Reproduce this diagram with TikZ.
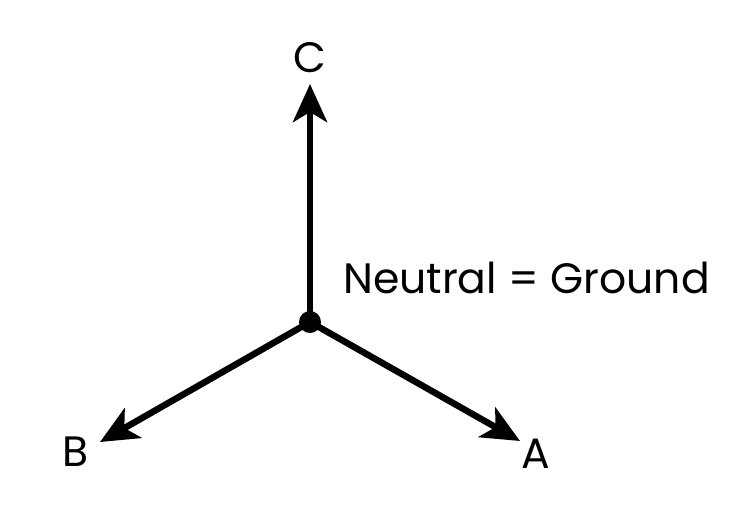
\documentclass[tikz,border=0pt]{standalone}
\usepackage{fontspec}
\setmainfont{Poppins}
\usetikzlibrary{arrows.meta}
\begin{document}
\begin{tikzpicture}[x=1pt,y=-1pt,
  vec/.style={line width=6.5pt,-{Stealth[length=38pt,width=34pt,inset=10pt]}},
  lbl/.style={font=\fontsize{42.5}{44}\selectfont,inner sep=0pt}]
\useasboundingbox (0,0) rectangle (755,515);
\node[circle,fill,inner sep=0pt,minimum size=22pt] (o) at (310,322) {};
\coordinate (c) at (310,84);
\coordinate (b) at (100,442);
\coordinate (a) at (520,441);
\draw[vec] (o.center) -- (c);
\draw[vec] (o.center) -- (b);
\draw[vec] (o.center) -- (a);
\node[lbl] (lc) at (310,58) {C};
\node[lbl] (lb) at (76,452) {B};
\node[lbl] (la) at (536,454) {A};
\node[lbl,anchor=west] (n) at (343,278) {Neutral = Ground};
\end{tikzpicture}
\end{document}
